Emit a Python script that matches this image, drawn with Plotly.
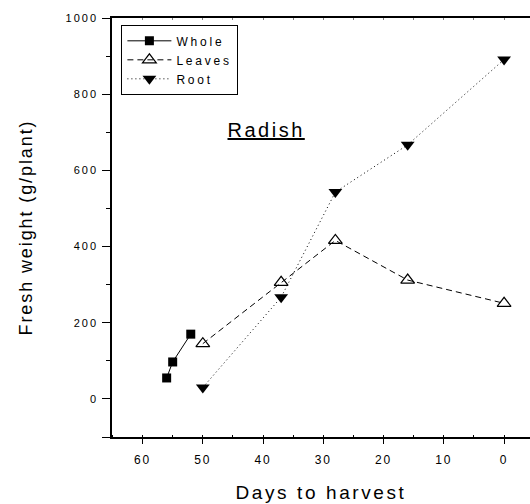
import plotly.graph_objects as go

whole_days = [56, 55, 52]
whole_wt = [55, 97, 170]
leaves_days = [50, 37, 28, 16, 0]
leaves_wt = [145, 306, 416, 312, 251]
root_days = [50, 37, 28, 16, 0]
root_wt = [30, 267, 543, 667, 891]

x_ticks = [60, 50, 40, 30, 20, 10, 0]
y_ticks = [-100, 0, 200, 400, 600, 800, 1000]
y_tick_labels = ["", "0", "200", "400", "600", "800", "1000"]

FONT = "Liberation Sans, Arial, sans-serif"

fig = go.Figure()
fig.add_trace(go.Scatter(x=whole_days, y=whole_wt, name="Whole", mode="lines+markers",
                         line=dict(color="black", width=1),
                         marker=dict(symbol="square", size=9, color="black")))
fig.add_trace(go.Scatter(x=leaves_days, y=leaves_wt, name="Leaves", mode="lines+markers",
                         line=dict(color="black", width=1, dash="6px,4px"),
                         marker=dict(symbol="triangle-up-open", size=12, color="black",
                                     line=dict(width=1.2, color="black"))))
fig.add_trace(go.Scatter(x=root_days, y=root_wt, name="Root", mode="lines+markers",
                         line=dict(color="black", width=1, dash="1px,3px"),
                         marker=dict(symbol="triangle-down", size=12, color="black")))
# helper for top axis ticks
fig.add_trace(go.Scatter(x=[30], y=[None], xaxis="x2", showlegend=False, hoverinfo="skip"))

fig.update_layout(
    width=530, height=504,
    margin=dict(l=112, r=0, t=18, b=67, autoexpand=False),
    paper_bgcolor="white", plot_bgcolor="white",
    font=dict(family=FONT, color="black", size=11),
    showlegend=True,
    legend=dict(x=0.022, y=0.983, xanchor="left", yanchor="top",
                bordercolor="black", borderwidth=1.2, bgcolor="white",
                font=dict(size=12.01, family=FONT), tracegroupgap=0,
                itemwidth=44),
    xaxis=dict(range=[65.07, -4.3], tickvals=x_ticks, ticks="outside", ticklen=5,
               tickwidth=1.2, tickcolor="black", showline=True, linecolor="black",
               linewidth=1.5, mirror=True, showgrid=False, zeroline=False,
               automargin=False, tickfont=dict(size=12), ticklabelstandoff=6,
               minor=dict(dtick=5, ticks="inside", ticklen=2, tickcolor="black", tickwidth=1),
               title=dict(text="Days to harvest", font=dict(size=19), standoff=20)),
    xaxis2=dict(overlaying="x", side="top", matches="x", range=[65.07, -4.3],
                tickmode="linear", tick0=0, dtick=5, ticks="inside", ticklen=2,
                tickcolor="gray", showticklabels=False, showgrid=False, zeroline=False,
                showline=False, automargin=False),
    yaxis=dict(range=[-100, 1000], tickvals=y_ticks, ticktext=y_tick_labels,
               ticks="outside", ticklen=8,
               tickwidth=1.2, tickcolor="black", showline=True, linecolor="black",
               linewidth=1.5, showgrid=False, zeroline=False, automargin=False,
               tickfont=dict(size=11), ticklabelstandoff=2,
               minor=dict(dtick=100, tick0=0, ticks="outside", ticklen=4, tickcolor="black", tickwidth=1),
               title=dict(text="Fresh weight (g/plant)", font=dict(size=18), standoff=36)),
    annotations=[dict(x=39.5, y=705, xref="x", yref="y", text="<u>Radish</u>",
                      showarrow=False, font=dict(size=20, family=FONT), xanchor="center")],
)

post = """
document.body.style.margin='0';
document.body.style.overflow='hidden';
var st = document.createElement('style');
st.textContent = '.xtitle{letter-spacing:2.6px}.ytitle{letter-spacing:1.9px}' +
  '.legendtext{letter-spacing:2.8px}.annotation-text{letter-spacing:2.5px}' +
  '.xtick text,.ytick text{letter-spacing:2px}';
document.head.appendChild(st);
var gd = document.getElementById('{plot_id}');
Plotly.relayout(gd, {'legend.font.size': 12});
"""

fig.write_html("out.html", config={"displayModeBar": False}, post_script=post)
